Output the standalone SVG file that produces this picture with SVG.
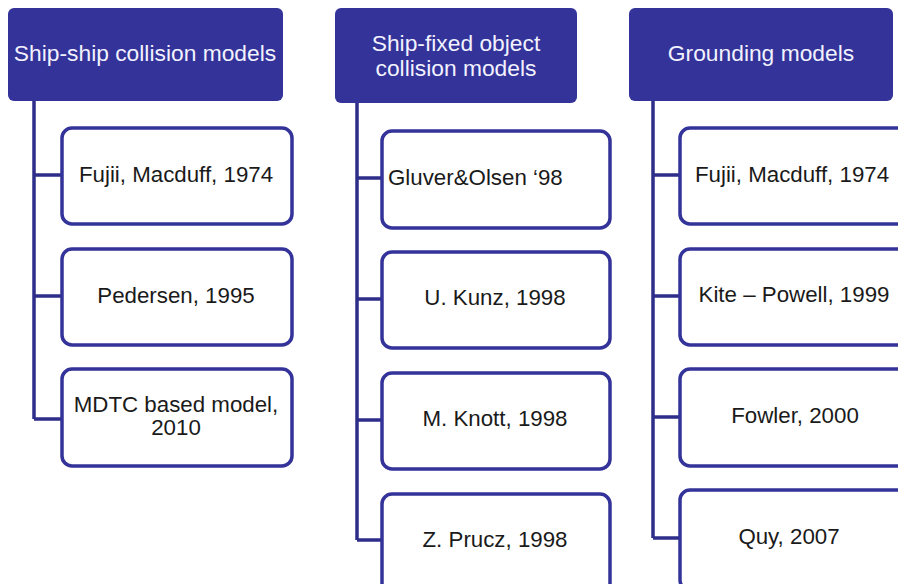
<svg xmlns="http://www.w3.org/2000/svg" width="898" height="584" viewBox="0 0 898 584">
<style>
.hdr{fill:#333399;}
.box{fill:#ffffff;stroke:#333399;stroke-width:3.5;}
.ht{font-family:"Liberation Sans",Arial,sans-serif;font-size:22.8px;fill:#f2f2ff;text-anchor:middle;}
.bt{font-family:"Liberation Sans",Arial,sans-serif;font-size:22.3px;fill:#1a1a1a;text-anchor:middle;}
.con{fill:none;stroke:#2e2e8a;stroke-width:3.5;}
</style>
<rect width="898" height="584" fill="#ffffff"/>
<g id="connectors">
<path class="con" d="M34,101 V419 M34,175 H62 M34,296 H62 M34,419 H62"/>
<path class="con" d="M357,103 V540 M357,178 H382 M357,299 H382 M357,420 H382 M357,540 H382"/>
<path class="con" d="M653,101 V538 M653,175 H680 M653,296 H680 M653,417 H680 M653,538 H680"/>
</g>
<g id="h1"><rect class="hdr" x="8" y="8" width="275" height="93" rx="6"/><text class="ht" x="145" y="61">Ship-ship collision models</text></g>
<g id="h2"><rect class="hdr" x="335" y="8" width="242" height="95" rx="6"/><text class="ht" x="456" y="51">Ship-fixed object</text><text class="ht" x="456" y="76">collision models</text></g>
<g id="h3"><rect class="hdr" x="629" y="8" width="264" height="93" rx="6"/><text class="ht" x="761" y="61">Grounding models</text></g>
<g id="c1a"><rect class="box" x="62" y="128" width="230" height="96" rx="10"/><text class="bt" x="176" y="182">Fujii, Macduff, 1974</text></g>
<g id="c1b"><rect class="box" x="62" y="249" width="230" height="96" rx="10"/><text class="bt" x="176" y="303">Pedersen, 1995</text></g>
<g id="c1c"><rect class="box" x="62" y="369" width="230" height="97" rx="10"/><text class="bt" x="176" y="412">MDTC based model,</text><text class="bt" x="176" y="435">2010</text></g>
<g id="c2a"><rect class="box" x="382" y="131" width="228" height="97" rx="10"/><text class="bt" x="388" y="185" style="text-anchor:start">Gluver&amp;Olsen ‘98</text></g>
<g id="c2b"><rect class="box" x="382" y="252" width="228" height="96" rx="10"/><text class="bt" x="495" y="305">U. Kunz, 1998</text></g>
<g id="c2c"><rect class="box" x="382" y="373" width="228" height="96" rx="10"/><text class="bt" x="495" y="426">M. Knott, 1998</text></g>
<g id="c2d"><rect class="box" x="382" y="494" width="228" height="100" rx="10"/><text class="bt" x="495" y="547">Z. Prucz, 1998</text></g>
<g id="c3a"><rect class="box" x="680" y="128" width="240" height="96" rx="10"/><text class="bt" x="792" y="182">Fujii, Macduff, 1974</text></g>
<g id="c3b"><rect class="box" x="680" y="249" width="240" height="96" rx="10"/><text class="bt" x="794" y="302">Kite – Powell, 1999</text></g>
<g id="c3c"><rect class="box" x="680" y="369" width="240" height="97" rx="10"/><text class="bt" x="795" y="423">Fowler, 2000</text></g>
<g id="c3d"><rect class="box" x="680" y="490" width="240" height="100" rx="10"/><text class="bt" x="789" y="544">Quy, 2007</text></g>
</svg>
